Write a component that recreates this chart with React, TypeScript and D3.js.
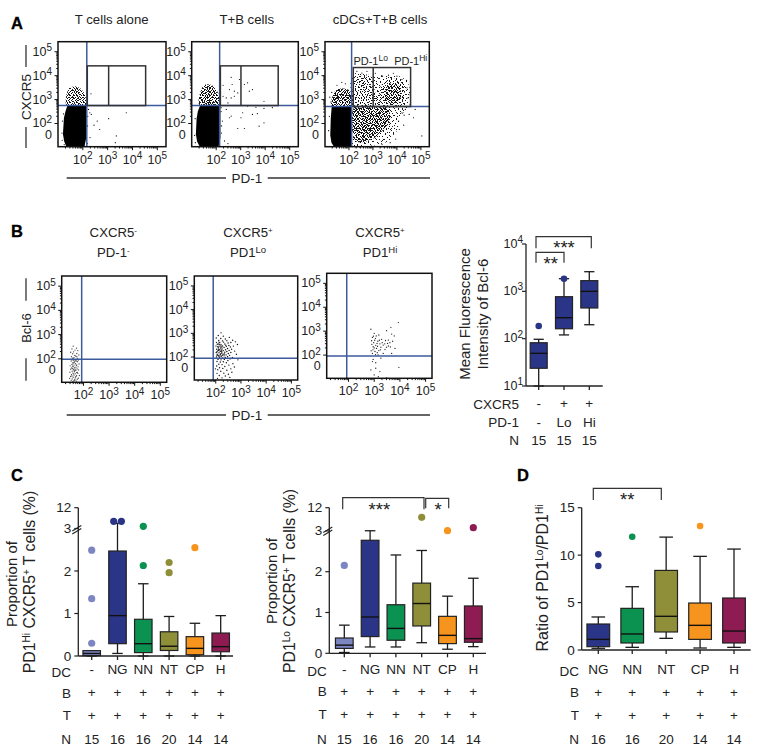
import React from 'react';
import { scaleLinear, scaleLog, scalePoint, line, curveCatmullRomClosed, curveLinearClosed } from 'd3';

const FONT = '"Liberation Sans", Arial, sans-serif';
const INK = '#222';
const QUAD = '#3d5a9c';

const NAVY = '#2b3587';
const GREEN = '#0b9150';
const OLIVE = '#8f8f3a';
const ORANGE = '#f7941d';
const CRIMSON = '#8e1c53';
const PERI = '#7e86c2';

// flow plots: every value is log10 of the axis units
const A1_DOTS = [[2.33,3.24],[2.28,2.45],[2.34,2.38],[2.58,2.1],[2.45,1.93],[2.68,1.75],[3.04,2.2],[3.75,2.45],[3.31,1.2],[2.23,2.59],[2.29,1.41],[2.18,1.16],[3.35,1.48],[2.2,2.3],[2.19,1.9],[1.16,1.6],[1.18,2.1],[1.17,1.3],[1.22,2.4],[1.25,1.12]];
const A2_DOTS = [[2.28,3.6],[2.61,3.93],[2.65,3.63],[2.54,3.42],[2.74,3.35],[2.88,3.28],[2.41,3.07],[2.61,3.07],[2.74,3.14],[2.95,3.84],[3.28,3.7],[3.48,3.42],[3.35,3.35],[2.28,3.14],[2.48,2.86],[3.15,3.63],[3.95,2.93],[2.41,2.59],[2.61,2.31],[3.08,2.45],[3.48,2.38],[3.68,2.41],[3.95,2.63],[4.29,2.66],[3.62,2.68],[3.01,2.24],[2.54,2.24],[2.88,1.79],[3.15,1.79],[3.75,1.89],[3.28,2.73],[2.34,1.27],[2.48,1.16],[3.95,2.03],[2.14,1.41],[2.2,2.5],[2.22,1.9],[2.25,2.1],[1.12,1.5],[1.14,2.2],[2.21,1.6],[2.2,2.66],[1.15,1.2]];
const A3_DOTS = [[2.33,4.18],[2.54,4.11],[2.75,4.18],[3.65,4.02],[4,3.98],[4.21,3.84],[4.42,3.49],[4.46,3.07],[4.35,2.59],[4.21,2.45],[4.51,2.38],[4.76,2.59],[5.04,1.48],[4.69,2.24],[3.86,1.55],[4.07,2.1],[4.28,1.93],[3.72,1.2],[3.38,1.13],[3.1,4.1],[3.4,3.98],[3.85,4.1],[4.4,3.8],[4.55,3.2],[4.3,2.35],[4.1,1.75],[3.95,1.35],[1.2,3.1],[1.25,2.9],[1.18,2.3],[1.15,1.7],[1.28,3.3],[1.7,3.72],[1.85,3.66],[1.5,3.6]];
const B1_DOTS = [[1.6,2.52],[1.73,2.44],[1.55,2.41],[1.67,2.36],[1.78,2.34],[1.61,2.29],[1.5,2.27],[1.74,2.22],[1.58,2.21],[1.66,2.14],[1.82,2.16],[1.53,2.09],[1.7,2.11],[1.63,2.05],[1.76,2.02],[1.57,2.03],[1.67,1.98],[1.8,1.95],[1.6,1.94],[1.72,1.91],[1.52,1.91],[1.64,1.86],[1.77,1.88],[1.58,1.83],[1.69,1.8],[1.83,1.79],[1.55,1.77],[1.63,1.74],[1.74,1.75],[1.48,1.71],[1.6,1.68],[1.71,1.66],[1.79,1.67],[1.54,1.62],[1.66,1.63],[1.75,1.58],[1.5,1.57],[1.61,1.55],[1.7,1.52],[1.81,1.54],[1.56,1.49],[1.65,1.47],[1.76,1.44],[1.47,1.45],[1.59,1.41],[1.68,1.38],[1.78,1.4],[1.53,1.35],[1.63,1.33],[1.73,1.3],[1.84,1.31],[1.5,1.27],[1.6,1.24],[1.7,1.26],[1.8,1.2],[1.46,1.19],[1.56,1.17],[1.66,1.14],[1.76,1.16],[1.52,1.11],[1.62,1.09],[1.72,1.08],[1.58,1.06],[1.68,1.21],[1.64,1.51],[1.58,1.6],[1.72,1.73],[1.66,1.9],[1.6,2.01],[1.74,2.09],[1.69,1.95],[1.62,1.83],[1.57,1.7],[1.67,1.57],[1.73,1.43],[1.55,1.29],[1.66,1.11],[1.61,1.38]];
const B2_DOTS = [[2.21,3.02],[2.1,2.91],[2.3,2.88],[2.02,2.8],[2.2,2.78],[2.38,2.76],[2.54,2.83],[2.67,2.71],[2.12,2.7],[2.27,2.68],[2.44,2.69],[2.78,2.64],[2.03,2.62],[2.16,2.6],[2.31,2.63],[2.49,2.59],[2.6,2.61],[2.86,2.53],[2.06,2.54],[2.21,2.52],[2.36,2.55],[2.52,2.49],[2.7,2.46],[2.01,2.46],[2.13,2.45],[2.27,2.47],[2.42,2.44],[2.58,2.42],[2.1,2.39],[2.19,2.38],[2.33,2.4],[2.47,2.36],[2.63,2.33],[2.04,2.33],[2.16,2.31],[2.25,2.34],[2.39,2.31],[2.53,2.28],[2.75,2.25],[2.08,2.26],[2.2,2.24],[2.3,2.27],[2.44,2.23],[2.6,2.19],[2.02,2.19],[2.13,2.18],[2.24,2.17],[2.36,2.2],[2.5,2.15],[2.82,2.12],[2.06,2.12],[2.18,2.1],[2.29,2.12],[2.41,2.09],[2.55,2.07],[2.11,2.04],[2.22,2.03],[2.33,2.05],[2.47,2.01],[2.66,1.98],[2.03,2],[2.15,1.97],[2.27,1.96],[2.38,1.98],[2.57,1.92],[2.88,1.88],[2.09,1.9],[2.21,1.88],[2.34,1.9],[2.48,1.85],[2.05,1.81],[2.18,1.79],[2.3,1.8],[2.42,1.76],[2.68,1.72],[2.12,1.7],[2.25,1.68],[2.52,1.66],[2.04,1.62],[2.36,1.6],[2.74,1.58],[2.15,1.55],[2.28,1.52],[2.6,1.5],[2.08,1.46],[2.44,1.44],[2.2,1.4],[2.64,1.36],[2.32,1.32],[2.05,1.31],[2.5,1.27],[2.14,1.22],[2.38,1.2],[2.56,1.14],[2.25,1.12],[2.07,1.1],[1.99,1.5],[2.1,2.55],[2.24,2.42],[2.34,2.13],[2.17,2.25],[2.26,2.07],[2.12,2.33],[2.4,2.5],[2.15,2.52],[2.08,2.44],[2.2,2.46],[2.11,2.28],[2.05,2.22],[2.23,2.29],[2.09,2.08],[2.16,2.04],[2.24,2.22],[2.05,2.07],[2.2,2.14],[2.13,2.63]];
const B3_DOTS = [[3.94,3.36],[3.65,3.16],[2.87,3.08],[3.48,3.02],[3.68,2.88],[3.78,2.8],[3,2.91],[2.93,2.74],[3.05,2.7],[3.18,2.84],[3.29,2.66],[3.44,2.61],[3.55,2.63],[2.9,2.6],[2.98,2.52],[3.11,2.49],[3.22,2.47],[3.35,2.42],[3.52,2.49],[3.61,2.52],[3.81,2.28],[2.96,2.35],[3.09,2.28],[3.26,2.33],[3.42,2.24],[3.55,2.38],[3.03,2.15],[3.18,2.19],[2.93,2.07],[3.35,2.07],[3.68,2.07],[2.96,1.82],[3.06,1.68],[2.93,1.73],[3.26,1.87],[3.96,1.49],[2.87,1.38],[3.06,1.45],[3.22,1.31],[3,1.17],[3.16,1.1],[3.48,1.05],[2.91,2.45],[3.02,2.62],[3.14,2.58],[3.06,2.41],[3,2.3],[2.95,2.22],[3.13,2.37],[3.2,2.62],[3.31,2.52],[3.41,2.47],[3.48,2.33],[3.12,2.1],[3.24,2.22],[2.88,2.18],[3.05,2.02],[3.15,2.01],[3.72,2.58],[3.63,2.34],[2.97,2.79],[3.08,2.8]];

const DENSE_A1 = [[1.38,2.75],[1.3,2.5],[1.24,2.24],[1.2,1.55],[1.25,1.25],[1.33,1.05],[2.07,1.05],[2.14,1.41],[2.14,2.75]];
const UPPER_A1 = [[1.36,2.75],[1.33,3.15],[1.5,3.52],[1.85,3.5],[2.08,3.2],[2.12,2.75]];
const DENSE_A2 = [[1.34,2.75],[1.25,2.5],[1.2,2.2],[1.17,1.55],[1.22,1.25],[1.32,1.05],[2.1,1.05],[2.17,1.41],[2.17,2.75]];
const UPPER_A2 = [[1.33,2.75],[1.32,3.2],[1.55,3.62],[1.9,3.55],[2.1,3.2],[2.12,2.75]];
const DENSE_A3 = [[1.28,2.7],[1.24,2.2],[1.22,1.5],[1.27,1.2],[1.36,1.05],[2.08,1.05],[2.12,1.3],[2.12,2.7]];
const UPPER_A3 = [[1.3,2.72],[1.3,3.1],[1.5,3.42],[1.85,3.45],[2.1,3.3],[2.12,2.72]];
const WIDE_A3 = [[2.16,4.05],[2.96,4.02],[4.14,3.96],[4.5,3.6],[4.5,2.72],[4.14,2.3],[4,1.7],[3.65,1.27],[2.96,1.08],[2.15,1.08],[2.12,2.7]];
const LOWER_A3 = [[2.24,2.7],[3,2.7],[3.6,2.65],[3.7,2.1],[3.3,1.6],[2.85,1.3],[2.3,1.25],[2.14,1.9]];
const GATE_A3 = [[2.24,2.72],[2.3,3.9],[2.9,3.95],[3.05,3.5],[3.1,2.72]];
const RIGHT_A3 = [[3.17,3.2],[3.6,3.85],[4.2,3.75],[4.32,3.1],[4.2,2.75],[3.3,2.72]];
const CORE_A3 = [[3.52,3.3],[3.8,3.7],[4.12,3.5],[4.12,3],[3.85,2.85],[3.55,2.95]];

// hand placed stipple tiles for the crowded parts of the cell clouds
// the tile sizes share no factor, so stacking them does not show a grid
const TILE_17 = [[1,2],[5,0],[9,3],[13,1],[15,5],[3,6],[7,7],[11,6],[0,9],[5,10],[9,11],[14,9],[2,13],[6,14],[11,14],[15,13],[8,4],[12,10]];
const TILE_13 = [[1,0],[6,1],[10,2],[3,3],[8,4],[12,5],[0,6],[5,6],[10,7],[2,9],[7,9],[12,9],[4,11],[9,11],[0,12]];
const TILE_11 = [[0,1],[3,0],[6,2],[9,1],[1,4],[4,3],[8,4],[10,3],[2,6],[5,5],[7,7],[10,6],[0,8],[3,9],[6,9],[9,9],[4,7],[1,10],[7,10]];
const TILE_7 = [[0,0],[2,1],[4,0],[6,1],[1,2],[3,3],[5,2],[0,4],[2,5],[4,4],[6,4],[1,6],[3,6],[5,6],[6,3]];

// panel B, right: mean fluorescence intensity
const B_TOP = ['-', '+', '+'];
const B_PD1 = ['-', 'Lo', 'Hi'];
const B_N = [15, 15, 15];
const B_LO = [10, 120, 197];
const B_Q1 = [23.7, 162, 445];
const B_MED = [49, 277, 1000];
const B_Q3 = [82, 770, 1680];
const B_HI = [97, 1850, 2600];
const B_OUT = [[185], [1850], []];

// panel C, left: PD1 Hi proportion
const C1_CATS = ['-', 'NG', 'NN', 'NT', 'CP', 'H'];
const C1_N = [15, 16, 16, 20, 14, 14];
const C1_LO = [0, 0.06, 0, 0, 0, 0];
const C1_Q1 = [0.01, 0.29, 0.08, 0.13, 0.03, 0.1];
const C1_MED = [0.06, 0.95, 0.29, 0.23, 0.18, 0.22];
const C1_Q3 = [0.126, 2.47, 0.864, 0.57, 0.455, 0.54];
const C1_HI = [0.126, 5.25, 1.7, 0.93, 0.77, 0.95];
const C1_OUT = [[0.3, 1.35, 2.49], [6.1, 6.1], [2.13, 3.95], [1.96, 2.2], [2.55], []];

// panel C, right: PD1 Lo proportion
const C2_N = [15, 16, 16, 20, 14, 14];
const C2_LO = [0.02, 0.155, 0.155, 0.26, 0.1, 0.163];
const C2_Q1 = [0.12, 0.41, 0.32, 0.67, 0.237, 0.27];
const C2_MED = [0.2, 0.89, 0.61, 1.22, 0.44, 0.36];
const C2_Q3 = [0.375, 2.77, 1.19, 1.72, 0.906, 1.16];
const C2_HI = [0.69, 3.06, 2.41, 2.52, 1.4, 1.84];
const C2_OUT = [[2.155], [], [], [8.28], [3.09], [4.24]];

// panel D: Lo/Hi ratio
const D_CATS = ['NG', 'NN', 'NT', 'CP', 'H'];
const D_N = [16, 16, 20, 14, 14];
const D_LO = [0.18, 0.28, 1.23, 0.21, 0.28];
const D_Q1 = [0.35, 0.74, 1.9, 1.12, 0.74];
const D_MED = [1.12, 1.69, 3.55, 2.6, 2];
const D_Q3 = [2.74, 4.39, 8.39, 4.95, 5.48];
const D_HI = [3.48, 6.67, 11.9, 9.87, 10.64];
const D_OUT = [[8.85, 10.08], [11.94], [], [13.07], []];

const C_COLORS = [PERI, NAVY, GREEN, OLIVE, ORANGE, CRIMSON];
const D_COLORS = [NAVY, GREEN, OLIVE, ORANGE, CRIMSON];

const DECADES = [2, 3, 4, 5];
const MINORS = [2, 3, 4, 5, 6, 7, 8, 9];
const FLOW_Y = [1.03, 5.42];
const ZERO_AT = 1.53;

function Pow({ x, y, base = '10', exp, size = 12.5, anchor = 'middle' }: any) {
  return (
    <text x={x} y={y} fontSize={size} textAnchor={anchor} fill={INK}>
      {base}
      <tspan dy={-4.5} fontSize={size * 0.8}>{exp}</tspan>
    </text>
  );
}

// a region of the cloud, painted with one or more stipple tiles
const stipple = (pts: number[][], ...tiles: number[]) => tiles.map(t => ({ pts, fill: `url(#tile${t})` }));
const solid = (pts: number[][]) => [{ pts, fill: '#000', sharp: true }];

function FlowPlot(props: any) {
  const { left, right, top, bottom, vx, hy, xDomain, gate, dots, dotColor = '#000', dotR = 0.6, labelsAtLeft = -6, children } = props;
  const x = scaleLinear().domain(xDomain).range([left, right]);
  const y = scaleLinear().domain(FLOW_Y).range([bottom, top]);
  const round = line<number[]>().x(d => x(d[0])).y(d => y(d[1])).curve(curveCatmullRomClosed.alpha(0.5));
  const sharp = line<number[]>().x(d => x(d[0])).y(d => y(d[1])).curve(curveLinearClosed);
  const minorX: number[] = [];
  const minorY: number[] = [];
  [1, 2, 3, 4].forEach(d => MINORS.forEach(m => {
    const v = d + Math.log10(m);
    if (v > xDomain[0] && v < xDomain[1]) minorX.push(v);
    if (v > 2 && v < FLOW_Y[1]) minorY.push(v);
  }));
  return (
    <g>
      {(props.clouds || []).map((c: any, i: number) => (
        <path key={i} d={(c.sharp ? sharp : round)(c.pts) as string} fill={c.fill} />
      ))}
      {dots.map((d: number[], i: number) => (
        <circle key={i} cx={x(d[0])} cy={y(d[1])} r={dotR} fill={dotColor} />
      ))}
      <line x1={x(vx)} x2={x(vx)} y1={top} y2={bottom} stroke={QUAD} strokeWidth={1.5} />
      <line x1={left} x2={right} y1={y(hy)} y2={y(hy)} stroke={QUAD} strokeWidth={1.5} />
      {gate && (
        <g fill="none" stroke="#333" strokeWidth={1.5}>
          <rect x={x(gate[0])} y={y(gate[4])} width={x(gate[2]) - x(gate[0])} height={y(gate[3]) - y(gate[4])} />
          <line x1={x(gate[1])} x2={x(gate[1])} y1={y(gate[4])} y2={y(gate[3])} />
        </g>
      )}
      <rect x={left} y={top} width={right - left} height={bottom - top} fill="none" stroke="#111" strokeWidth={1.5} />
      {minorX.map(v => <line key={v} x1={x(v)} x2={x(v)} y1={bottom} y2={bottom + 1.8} stroke="#111" />)}
      {minorY.map(v => <line key={v} x1={left} x2={left - 1.8} y1={y(v)} y2={y(v)} stroke="#111" />)}
      {DECADES.map(d => (
        <g key={d}>
          <line x1={x(d)} x2={x(d)} y1={bottom} y2={bottom + 3.5} stroke="#111" />
          <Pow x={x(d)} y={bottom + 17} exp={d} />
          <line x1={left} x2={left - 3.5} y1={y(d)} y2={y(d)} stroke="#111" />
          <Pow x={left + labelsAtLeft} y={y(d) + 4} exp={d} anchor="end" />
        </g>
      ))}
      <text x={left + labelsAtLeft} y={y(ZERO_AT) + 4} fontSize={12.5} textAnchor="end" fill={INK}>0</text>
      {children}
    </g>
  );
}

function AxisTitleBar({ y }: any) {
  return (
    <g>
      <line x1={66.7} x2={226} y1={y} y2={y} stroke="#333" strokeWidth={1.3} />
      <text x={247} y={y + 4.5} fontSize={13.5} textAnchor="middle" fill={INK}>PD-1</text>
      <line x1={267.7} x2={430} y1={y} y2={y} stroke="#333" strokeWidth={1.3} />
    </g>
  );
}

function Bracket({ x1, x2, top, drop, label, labelX, labelY }: any) {
  return (
    <g>
      <path d={`M${x1},${top + drop}V${top}H${x2}V${top + drop}`} fill="none" stroke="#333" strokeWidth={1.2} />
      <text x={labelX} y={labelY} fontSize={18.5} textAnchor="middle" fill={INK}>{label}</text>
    </g>
  );
}

function Boxes({ cats, x, y, colors, lo, q1, med, q3, hi, out, boxW, r, jitter }: any) {
  return (
    <g>
      {cats.map((c: any, i: number) => {
        const cx = x(i);
        const cap = boxW * 0.3;
        const fill = colors[i];
        return (
          <g key={i}>
            <line x1={cx} x2={cx} y1={y(lo[i])} y2={y(hi[i])} stroke="#1c1c1c" strokeWidth={1.3} />
            <line x1={cx - cap} x2={cx + cap} y1={y(lo[i])} y2={y(lo[i])} stroke="#1c1c1c" strokeWidth={1.3} />
            <line x1={cx - cap} x2={cx + cap} y1={y(hi[i])} y2={y(hi[i])} stroke="#1c1c1c" strokeWidth={1.3} />
            <rect x={cx - boxW / 2} y={y(q3[i])} width={boxW} height={y(q1[i]) - y(q3[i])} fill={fill} stroke="#222" strokeWidth={1.2} />
            <line x1={cx - boxW / 2} x2={cx + boxW / 2} y1={y(med[i])} y2={y(med[i])} stroke="#111" strokeWidth={1.4} />
            {out[i].map((v: number, k: number) => (
              <circle key={k} cx={cx + (jitter && jitter[i] ? jitter[i][k] : 0)} cy={y(v)} r={r} fill={fill} />
            ))}
          </g>
        );
      })}
    </g>
  );
}

function RowLabels({ labelX, rows, x, cats }: any) {
  return (
    <g fontSize={13.5} fill={INK}>
      {rows.map((r: any) => (
        <g key={r.name}>
          <text x={labelX} y={r.labelY} textAnchor="end">{r.name}</text>
          {cats.map((_: any, i: number) => (
            <text key={i} x={x(i)} y={r.y} textAnchor="middle">{r.values[i]}</text>
          ))}
        </g>
      ))}
    </g>
  );
}

function YAxis({ y, ax, values, labels, size = 13.5 }: any) {
  return (
    <g fontSize={size} fill={INK}>
      {values.map((v: number, i: number) => (
        <g key={v}>
          <line x1={ax - 4} x2={ax} y1={y(v)} y2={y(v)} stroke="#222" strokeWidth={1.2} />
          <text x={ax - 7} y={y(v) + 4.5} textAnchor="end">{labels[i]}</text>
        </g>
      ))}
    </g>
  );
}

function Baseline({ ax, end, y0, top, x, cats }: any) {
  return (
    <g stroke="#222" strokeWidth={1.3}>
      <line x1={ax} x2={ax} y1={top} y2={y0} />
      <line x1={ax} x2={end} y1={y0} y2={y0} />
      {cats.map((_: any, i: number) => <line key={i} x1={x(i)} x2={x(i)} y1={y0} y2={y0 + 4} />)}
    </g>
  );
}

function AxisBreak({ ax, y }: any) {
  return (
    <g stroke="#222" strokeWidth={1.1}>
      <line x1={ax - 6} x2={ax + 3} y1={y + 2.5} y2={y - 3} />
      <line x1={ax - 6} x2={ax + 3} y1={y + 5.5} y2={y} />
    </g>
  );
}

function SideLabel({ x, y, size = 15, children }: any) {
  return (
    <text transform={`translate(${x},${y}) rotate(-90)`} fontSize={size} textAnchor="middle" fill={INK}>
      {children}
    </text>
  );
}

function Sup({ children, size = 10 }: any) {
  return <tspan dy={-5} fontSize={size}>{children}</tspan>;
}
function Back({ children }: any) {
  return <tspan dy={5}>{children}</tspan>;
}

const plusRow = (n: number) => Array.from({ length: n }, () => '+');

export default function App() {
  const miX = scalePoint<number>().domain([0, 1, 2]).range([538.7, 589.3]);
  const miY = scaleLog().domain([10, 10000]).range([386, 244]);

  const c1X = scalePoint<number>().domain([0, 1, 2, 3, 4, 5]).range([91.7, 220.7]);
  const c1Y = scaleLinear().domain([0, 3, 12]).range([656, 528.5, 507.7]);
  const c2X = scalePoint<number>().domain([0, 1, 2, 3, 4, 5]).range([344.3, 473.3]);
  const c2Y = scaleLinear().domain([0, 3, 12]).range([653.3, 530.9, 507.7]);
  const dX = scalePoint<number>().domain([0, 1, 2, 3, 4]).range([598.3, 734]);
  const dY = scaleLinear().domain([0, 15]).range([650, 507.7]);

  const xA = [1, 5.35];
  const xB = [1.15, 5.25];

  return (
    <svg width={758} height={755} style={{ position: 'absolute', left: 0, top: 0, display: 'block', background: '#fff' }} fontFamily={FONT}>
      <defs>
        {[[17, TILE_17], [13, TILE_13], [11, TILE_11], [7, TILE_7]].map(([size, pts]: any) => (
          <pattern key={size} id={`tile${size}`} width={size} height={size} patternUnits="userSpaceOnUse">
            {pts.map((p: number[], i: number) => <rect key={i} x={p[0]} y={p[1]} width={1} height={1} fill="#000" opacity={0.9} />)}
          </pattern>
        ))}
      </defs>

      {/* panel letters */}
      <g fontSize={16.5} fontWeight="bold" fill="#000" stroke="#000" strokeWidth={0.3}>
        <text x={11} y={28.5}>A</text>
        <text x={11} y={237}>B</text>
        <text x={11} y={481}>C</text>
        <text x={517} y={481}>D</text>
      </g>

      {/* A */}
      <g fontSize={13.2} textAnchor="middle" fill={INK}>
        <text x={111.7} y={24}>T cells alone</text>
        <text x={246.7} y={24}>T+B cells</text>
        <text x={380} y={24}>cDCs+T+B cells</text>
      </g>
      <FlowPlot left={58} right={166} top={41.7} bottom={146.7} xDomain={xA} vx={2.16} hy={2.75} gate={[2.18, 3.04, 4.53, 2.75, 4.41]} dots={A1_DOTS}
        clouds={[...stipple(UPPER_A1, 7, 11), ...solid(DENSE_A1)]} />
      <FlowPlot left={191.7} right={298.3} top={41.7} bottom={146.7} xDomain={xA} vx={2.14} hy={2.75} gate={[2.17, 3.01, 4.53, 2.75, 4.41]} dots={A2_DOTS}
        clouds={[...stipple(UPPER_A2, 7, 11, 13), ...solid(DENSE_A2)]} />
      <FlowPlot left={325} right={429.3} top={41.7} bottom={146.7} xDomain={xA} vx={2.11} hy={2.71} gate={[2.18, 3.01, 4.57, 2.71, 4.34]} dots={A3_DOTS}
        clouds={[
          ...stipple(WIDE_A3, 17, 13),
          ...stipple(GATE_A3, 11),
          ...stipple(LOWER_A3, 11, 7),
          ...stipple(RIGHT_A3, 11),
          ...stipple(CORE_A3, 7, 17),
          ...stipple(UPPER_A3, 7, 11, 13, 17),
          ...solid(DENSE_A3),
        ]}>
        <text x={370.7} y={65} fontSize={11} textAnchor="middle" fill={INK}>PD-1<tspan dy={-4} fontSize={8.5}>Lo</tspan></text>
        <text x={410.7} y={65} fontSize={11} textAnchor="middle" fill={INK}>PD-1<tspan dy={-4} fontSize={8.5}>Hi</tspan></text>
      </FlowPlot>
      <line x1={26} x2={26} y1={45} y2={67} stroke="#333" strokeWidth={1.3} />
      <SideLabel x={31} y={97} size={13.5}>CXCR5</SideLabel>
      <line x1={26} x2={26} y1={127} y2={148} stroke="#333" strokeWidth={1.3} />
      <AxisTitleBar y={178} />

      {/* B */}
      <g fontSize={13.2} textAnchor="middle" fill={INK}>
        <text x={113.3} y={237}>CXCR5<tspan dy={-4} fontSize={8}>-</tspan></text>
        <text x={113.3} y={257}>PD-1<tspan dy={-4} fontSize={8}>-</tspan></text>
        <text x={248} y={237}>CXCR5<tspan dy={-4} fontSize={8}>+</tspan></text>
        <text x={248} y={257}>PD1<tspan dy={-4} fontSize={9.5}>Lo</tspan></text>
        <text x={380} y={237}>CXCR5<tspan dy={-4} fontSize={8}>+</tspan></text>
        <text x={380} y={257}>PD1<tspan dy={-4} fontSize={9.5}>Hi</tspan></text>
      </g>
      <FlowPlot left={61.7} right={166.7} top={276} bottom={382.3} xDomain={xB} vx={1.93} hy={1.98} dots={B1_DOTS} dotColor="#444" dotR={0.65} />
      <FlowPlot left={194.3} right={297.7} top={276} bottom={380} xDomain={xB} vx={1.9} hy={1.95} dots={B2_DOTS} dotColor="#111" dotR={0.7} />
      <FlowPlot left={326.7} right={432} top={273.3} bottom={378.3} xDomain={xB} vx={1.93} hy={1.96} dots={B3_DOTS} dotColor="#222" dotR={0.65} />
      <line x1={26} x2={26} y1={278.3} y2={300.7} stroke="#333" strokeWidth={1.3} />
      <SideLabel x={31} y={328} size={13}>Bcl-6</SideLabel>
      <line x1={26} x2={26} y1={358.3} y2={380.7} stroke="#333" strokeWidth={1.3} />
      <AxisTitleBar y={415} />

      {/* B, box plot */}
      <SideLabel x={469.5} y={314}>Mean Fluorescence</SideLabel>
      <SideLabel x={488} y={314}>Intensity of Bcl-6</SideLabel>
      <Baseline ax={526} end={602.7} y0={386} top={244} x={miX} cats={B_N} />
      {[10, 100, 1000, 10000].map(v => (
        <g key={v}>
          <line x1={522} x2={526} y1={miY(v)} y2={miY(v)} stroke="#222" strokeWidth={1.2} />
          <Pow x={523} y={miY(v) + 3.5} exp={Math.round(Math.log10(v))} anchor="end" size={12.5} />
        </g>
      ))}
      <Boxes cats={B_N} x={miX} y={miY} colors={[NAVY, NAVY, NAVY]} lo={B_LO} q1={B_Q1} med={B_MED} q3={B_Q3} hi={B_HI} out={B_OUT} boxW={17} r={3.3} />
      <Bracket x1={536} x2={591.3} top={236.7} drop={11.6} label="***" labelX={564} labelY={254} />
      <Bracket x1={536} x2={564} top={252.3} drop={10.4} label="**" labelX={550.7} labelY={270} />
      <RowLabels labelX={519} x={miX} cats={B_N} rows={[
        { name: 'CXCR5', labelY: 409, y: 408, values: B_TOP },
        { name: 'PD-1', labelY: 427, y: 427, values: B_PD1 },
        { name: 'N', labelY: 445, y: 445, values: B_N },
      ]} />

      {/* C, left */}
      <SideLabel x={17} y={584}>Proportion of</SideLabel>
      <SideLabel x={35} y={582} size={15.8}>PD1<Sup>Hi</Sup><Back> CXCR5</Back><Sup>+</Sup><Back> T cells (%)</Back></SideLabel>
      <Baseline ax={78.3} end={233} y0={656} top={507.7} x={c1X} cats={C1_CATS} />
      <YAxis y={c1Y} ax={78.3} values={[0, 1, 2, 3, 12]} labels={['0', '1', '2', '3', '12']} />
      <AxisBreak ax={78.3} y={528.5} />
      <Boxes cats={C1_CATS} x={c1X} y={c1Y} colors={C_COLORS} lo={C1_LO} q1={C1_Q1} med={C1_MED} q3={C1_Q3} hi={C1_HI} out={C1_OUT} boxW={17.5} r={3.6}
        jitter={[null, [-3.8, 3.9], null, null, null, null]} />
      <RowLabels labelX={71} x={c1X} cats={C1_CATS} rows={[
        { name: 'DC', labelY: 677, y: 674, values: C1_CATS },
        { name: 'B', labelY: 698, y: 697, values: plusRow(6) },
        { name: 'T', labelY: 720, y: 720, values: plusRow(6) },
        { name: 'N', labelY: 744, y: 744, values: C1_N },
      ]} />

      {/* C, right */}
      <SideLabel x={277} y={581}>Proportion of</SideLabel>
      <SideLabel x={295} y={581} size={15.8}>PD1<Sup>Lo</Sup><Back> CXCR5</Back><Sup>+</Sup><Back> T cells (%)</Back></SideLabel>
      <Baseline ax={329.3} end={486} y0={653.3} top={507.7} x={c2X} cats={C1_CATS} />
      <YAxis y={c2Y} ax={329.3} values={[0, 1, 2, 3, 12]} labels={['0', '1', '2', '3', '12']} />
      <AxisBreak ax={329.3} y={530} />
      <Boxes cats={C1_CATS} x={c2X} y={c2Y} colors={C_COLORS} lo={C2_LO} q1={C2_Q1} med={C2_MED} q3={C2_Q3} hi={C2_HI} out={C2_OUT} boxW={17.7} r={3.6} />
      <Bracket x1={342.7} x2={424} top={497.7} drop={11.6} label="***" labelX={379.3} labelY={516} />
      <Bracket x1={425.7} x2={448.7} top={498.3} drop={10} label="*" labelX={438} labelY={516} />
      <RowLabels labelX={326.7} x={c2X} cats={C1_CATS} rows={[
        { name: 'DC', labelY: 676, y: 674, values: C1_CATS },
        { name: 'B', labelY: 696, y: 696, values: plusRow(6) },
        { name: 'T', labelY: 719, y: 719, values: plusRow(6) },
        { name: 'N', labelY: 744, y: 744, values: C2_N },
      ]} />

      {/* D */}
      <SideLabel x={548} y={578} size={16}>Ratio of PD1<Sup>Lo</Sup><Back>/PD1</Back><Sup>Hi</Sup></SideLabel>
      <Baseline ax={581.7} end={750.7} y0={650} top={507.7} x={dX} cats={D_CATS} />
      <YAxis y={dY} ax={581.7} values={[0, 5, 10, 15]} labels={['0', '5', '10', '15']} />
      <Boxes cats={D_CATS} x={dX} y={dY} colors={D_COLORS} lo={D_LO} q1={D_Q1} med={D_MED} q3={D_Q3} hi={D_HI} out={D_OUT} boxW={22.7} r={3.3} />
      <Bracket x1={593.3} x2={661.3} top={488.3} drop={11.7} label="**" labelX={627.3} labelY={506} />
      <RowLabels labelX={579} x={dX} cats={D_CATS} rows={[
        { name: 'DC', labelY: 676, y: 674, values: D_CATS },
        { name: 'B', labelY: 697, y: 697, values: plusRow(5) },
        { name: 'T', labelY: 720, y: 720, values: plusRow(5) },
        { name: 'N', labelY: 744, y: 744, values: D_N },
      ]} />
    </svg>
  );
}
